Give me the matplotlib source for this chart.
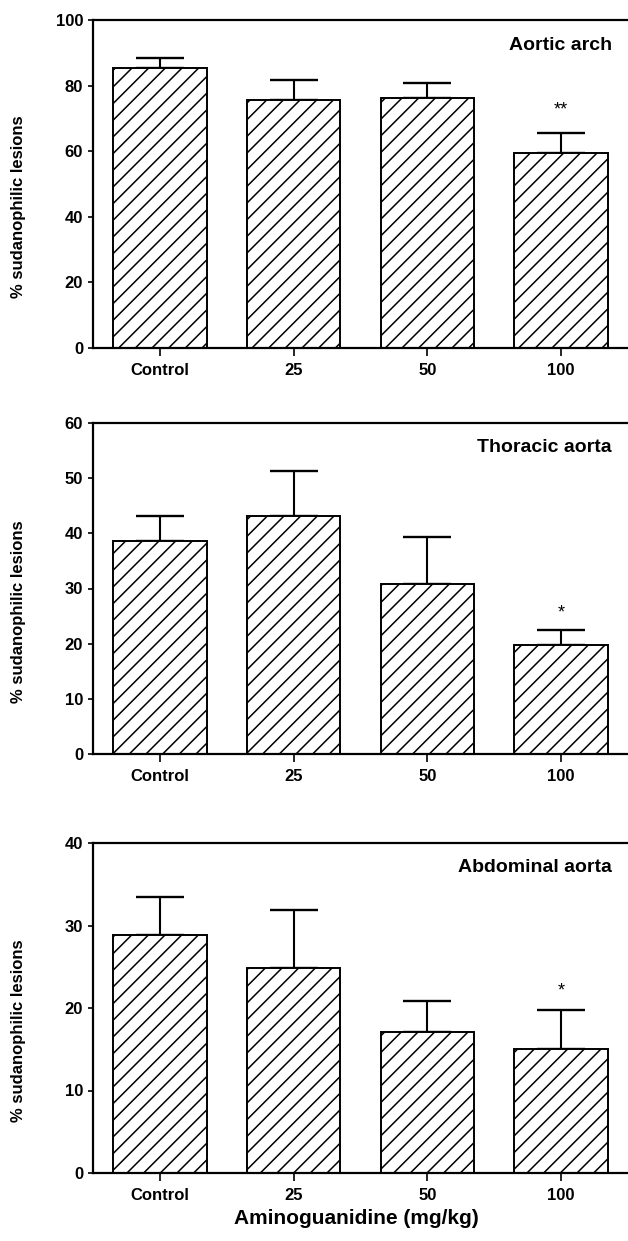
import matplotlib
matplotlib.use("Agg")
import matplotlib.pyplot as plt

plt.rcParams['font.family'] = ['Liberation Sans', 'DejaVu Sans']
plt.rcParams['hatch.linewidth'] = 1.1

doses = ['Control', '25', '50', '100']

arch_mean = [85.3, 75.6, 76.2, 59.3]
arch_err = [3.2, 6.1, 4.5, 6.4]

thoracic_mean = [38.7, 43.1, 30.9, 19.7]
thoracic_err = [4.4, 8.2, 8.4, 2.7]

abdominal_mean = [28.8, 24.8, 17.1, 15.0]
abdominal_err = [4.7, 7.1, 3.8, 4.8]

panels = [
    ('Aortic arch', arch_mean, arch_err, 100, [0, 20, 40, 60, 80, 100], '**', 72.6),
    ('Thoracic aorta', thoracic_mean, thoracic_err, 60, [0, 10, 20, 30, 40, 50, 60], '*', 25.5),
    ('Abdominal aorta', abdominal_mean, abdominal_err, 40, [0, 10, 20, 30, 40], '*', 22.1),
]

W, H = 628, 1241
fig = plt.figure(figsize=(W / 100, H / 100), dpi=100)

# axes boxes in pixels: (top, bottom)
boxes = [(20, 348), (423, 754), (843, 1173)]
left_px = 93

for (title, mean, err, ymax, yticks, star, star_y), (top, bot) in zip(panels, boxes):
    ax = fig.add_axes([left_px / W, 1 - bot / H, (W - left_px) / W, (bot - top) / H])
    xs = range(len(doses))
    ax.bar(xs, mean, width=0.70, color='white', edgecolor='black',
           linewidth=1.4, hatch='//', zorder=2)
    ax.errorbar(xs, mean, yerr=[[0] * len(err), err], fmt='none', ecolor='black',
                elinewidth=1.5, capsize=17, capthick=1.7, zorder=1)
    ax.text(3, star_y, star, ha='center', va='center', fontsize=13)

    ax.set_xlim(-0.5, 3.5)
    ax.set_ylim(0, ymax)
    ax.set_yticks(yticks)
    ax.set_xticks(list(xs))
    ax.set_xticklabels(doses)
    for s in ['top', 'left', 'bottom']:
        ax.spines[s].set_linewidth(1.6)
    ax.spines['right'].set_visible(False)
    ax.tick_params(axis='y', length=3.6, width=1.2, pad=3.5, labelsize=12)
    ax.tick_params(axis='x', length=6, width=1.2, pad=5, labelsize=12)
    for lab in ax.get_xticklabels() + ax.get_yticklabels():
        lab.set_fontweight('bold')

    ax.text(0.97, 1 - 25 / (bot - top), title, transform=ax.transAxes,
            ha='right', va='center', fontsize=14, fontweight='bold')

    ymid = bot - 0.43 * (bot - top)
    fig.text(19 / W, 1 - ymid / H, '% sudanophilic lesions', rotation=90,
             ha='center', va='center', fontsize=12, fontweight='bold')

fig.text(356 / W, 1 - 1218 / H, 'Aminoguanidine (mg/kg)', ha='center', va='center',
         fontsize=15, fontweight='bold')

fig.savefig('out.png', dpi=100)
